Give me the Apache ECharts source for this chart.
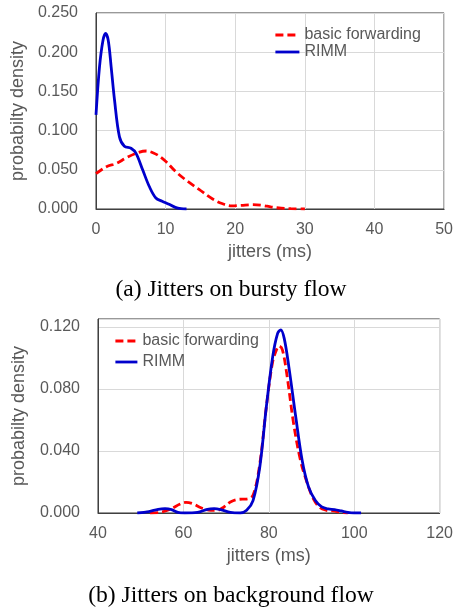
<!DOCTYPE html>
<html>
<head>
<meta charset="utf-8">
<script src="https://cdn.jsdelivr.net/npm/echarts@6/dist/echarts.min.js"></script>
<style>
html,body{margin:0;padding:0;background:#fff;}
#c{width:456px;height:610px;}
</style>
</head>
<body>
<div id="c"></div>
<script>
// ---- data ----
const seriesNames = ['basic forwarding', 'RIMM'];
const captions = ['(a) Jitters on bursty flow', '(b) Jitters on background flow'];
const xTitle = 'jitters (ms)';
const yTitle = 'probabilty density';

// (a) bursty flow: [jitter ms, density]
const burstyBasic = [
  [0,0.045],[1.5,0.054],[2.9,0.058],[4.3,0.065],[5.75,0.071],[7.2,0.074],[8.6,0.070],
  [10,0.061],[11.4,0.048],[12.9,0.037],[14.8,0.025],[16.7,0.013],[18.1,0.007],
  [19.5,0.004],[20.9,0.0047],[22.4,0.0055],[23.8,0.0047],[25.2,0.0025],[26.6,0.001],
  [28,0.0004],[30,0]
];
const burstyRimm = [
  [0,0.12],[0.5,0.181],[1.0,0.215],[1.38,0.224],[1.76,0.215],[2.18,0.181],[2.66,0.139],
  [3.37,0.092],[4.08,0.08],[5.03,0.0775],[5.75,0.071],[6.7,0.05],[7.64,0.029],
  [8.6,0.014],[9.5,0.01],[10.5,0.006],[11.4,0.002],[12.2,0.0004],[13,0]
];
// (b) background flow
const bgBasic = [
  [52.2,0],[54.9,0.0006],[57.2,0.0028],[59.1,0.0056],[60.6,0.0069],[62.2,0.006],
  [64.1,0.0034],[66.4,0.0017],[67.9,0.0017],[69.5,0.0039],[71,0.0071],[72.9,0.0088],
  [74.8,0.009],[76.3,0.0114],[77.9,0.032],[79.4,0.068],[80.9,0.0974],[82.06,0.107],
  [82.4,0.1075],[83.2,0.105],[84.3,0.0877],[85.8,0.0576],[87.4,0.034],[88.9,0.02],
  [90.4,0.0092],[92,0.0034],[93.5,0.0017],[95,0.0013],[97,0.0004],[98.5,0]
];
const bgRimm = [
  [49.2,0],[51.9,0.0009],[54.1,0.0024],[55.7,0.0028],[57.2,0.0022],[58.7,0.0004],
  [60.3,0],[63.3,0.0004],[65.6,0.0024],[67.2,0.0028],[68.7,0.0022],[71,0.0004],
  [73.3,0],[74.8,0.0017],[76.3,0.008],[77.9,0.030],[79.4,0.068],[80.9,0.1006],
  [82.06,0.1157],[82.8,0.118],[83.6,0.1125],[84.7,0.094],[86.3,0.062],[87.8,0.034],
  [89.3,0.0168],[90.9,0.008],[92.4,0.0039],[93.9,0.0026],[95.4,0.0022],[97,0.0013],
  [98.5,0.0004],[100,0],[101.6,0]
];
// axis ranges
const xRangeA = [0, 50, 10];
const yRangeA = [0, 0.25, 0.05];
const xRangeB = [40, 120, 20];
const yRangeB = [0, 0.125, 0.04];

// ---- chart ----
const txt = '#595959';
const font = 'Liberation Sans, Arial, sans-serif';
const RED = '#ff0000', BLUE = '#0000cc';

function xAxis(idx, r) {
  return {
    type: 'value', gridIndex: idx, min: r[0], max: r[1], interval: r[2],
    name: xTitle, nameLocation: 'middle', nameGap: 34,
    nameTextStyle: {color: txt, fontSize: 18, fontFamily: font},
    axisLine: {show: true, onZero: false, lineStyle: {color: '#404040', width: 1}},
    axisTick: {show: false},
    axisLabel: {color: txt, fontSize: 16, fontFamily: font, margin: 13},
    splitLine: {show: true, lineStyle: {color: '#d9d9d9', width: 1}}
  };
}
function yAxis(idx, r, gap) {
  const whole = Math.abs(r[1] / r[2] - Math.round(r[1] / r[2])) < 1e-9;
  return {
    type: 'value', gridIndex: idx, min: r[0], max: r[1], interval: r[2],
    name: yTitle, nameLocation: 'middle', nameGap: gap,
    nameTextStyle: {color: txt, fontSize: 18, fontFamily: font},
    axisLine: {show: true, lineStyle: {color: '#404040', width: 1}},
    axisTick: {show: false},
    axisLabel: {color: txt, fontSize: 16, fontFamily: font, margin: 18,
      showMaxLabel: whole, formatter: v => v.toFixed(3)},
    splitLine: {show: true, lineStyle: {color: '#d9d9d9', width: 1}}
  };
}
function line(name, data, idx, color, dashed) {
  return {
    type: 'line', name, data, xAxisIndex: idx, yAxisIndex: idx,
    smooth: 0.35, showSymbol: false, symbol: 'none', animation: false,
    lineStyle: {color, width: 2.8, type: dashed ? [8, 4] : 'solid'},
    itemStyle: {color}, z: dashed ? 3 : 4
  };
}
function legend(left, top, gap, w) {
  return {orient: 'vertical', left, top, padding: 0, itemWidth: w, itemHeight: 14, itemGap: gap,
    data: seriesNames, selectedMode: false,
    itemStyle: {opacity: 0, borderWidth: 0},
    lineStyle: {width: 2.8},
    textStyle: {color: txt, fontSize: 16, fontFamily: font}};
}

const chart = echarts.init(document.getElementById('c'), null, {renderer: 'canvas'});
const capFont = '"Liberation Serif", "Times New Roman", serif';
chart.setOption({
  animation: false,
  backgroundColor: '#fff',
  grid: [
    {left: 96, top: 13, width: 351, height: 196, show: true, borderColor: '#333', borderWidth: 1, backgroundColor: 'transparent'},
    {left: 98, top: 319, width: 349, height: 194, show: true, borderColor: '#333', borderWidth: 1, backgroundColor: 'transparent'}
  ],
  xAxis: [xAxis(0, xRangeA), xAxis(1, xRangeB)],
  yAxis: [yAxis(0, yRangeA, 68), yAxis(1, yRangeB, 70)],
  legend: [legend(274, 27, 1, 24), legend(114, 333, 5, 22)],
  graphic: [
    {type: 'text', x: 231, y: 278, style: {text: captions[0], fill: '#000', fontSize: 23.5, fontFamily: capFont, align: 'center', verticalAlign: 'top'}},
    {type: 'text', x: 231, y: 584, style: {text: captions[1], fill: '#000', fontSize: 23.6, fontFamily: capFont, align: 'center', verticalAlign: 'top'}}
  ],
  series: [
    line(seriesNames[0], burstyBasic, 0, RED, true),
    line(seriesNames[1], burstyRimm, 0, BLUE, false),
    line(seriesNames[0], bgBasic, 1, RED, true),
    line(seriesNames[1], bgRimm, 1, BLUE, false)
  ]
});
</script>
</body>
</html>
